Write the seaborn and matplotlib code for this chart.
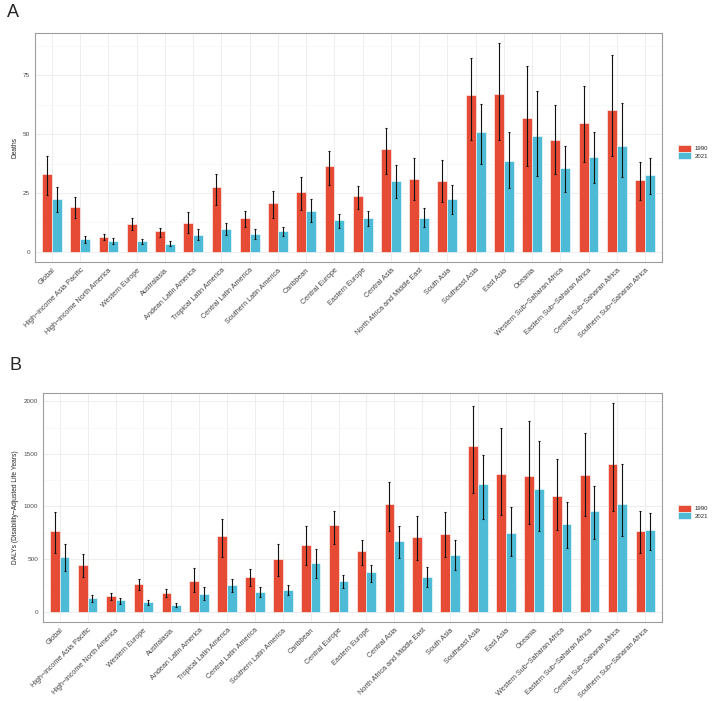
import numpy as np
import pandas as pd
import matplotlib
matplotlib.use("Agg")
import matplotlib.pyplot as plt
import seaborn as sns
from matplotlib.ticker import MultipleLocator

sns.set_style("whitegrid")
plt.rcParams["font.family"] = ["Liberation Sans", "DejaVu Sans"]

OUTPUT = "out.png"

REGIONS = [
    "Global", "High−income Asia Pacific", "High−income North America",
    "Western Europe", "Australasia", "Andean Latin America",
    "Tropical Latin America", "Central Latin America", "Southern Latin America",
    "Caribbean", "Central Europe", "Eastern Europe", "Central Asia",
    "North Africa and Middle East", "South Asia", "Southeast Asia", "East Asia",
    "Oceania", "Western Sub−Saharan Africa", "Eastern Sub−Saharan Africa",
    "Central Sub−Saharan Africa", "Southern Sub−Saharan Africa",
]
YEARS = ["1990", "2021"]
COLORS = {"1990": "#E64B35", "2021": "#4DBBD5"}

# Panel A: deaths
DEATHS_1990 = [33.1, 19.2, 6.4, 11.9, 8.6, 12.1, 27.3, 14.3, 20.5, 25.3, 36.4,
               23.7, 43.8, 30.9, 30.1, 66.7, 67.0, 56.8, 47.3, 54.7, 60.3, 30.5]
DEATHS_1990_LO = [24.0, 14.3, 4.8, 9.3, 6.4, 7.9, 19.9, 10.6, 14.3, 17.7, 28.2,
                  18.1, 32.9, 21.8, 21.0, 47.6, 47.3, 36.3, 32.9, 38.0, 40.5, 21.9]
DEATHS_1990_HI = [40.8, 23.3, 7.6, 14.1, 10.2, 16.8, 33.2, 17.2, 25.8, 31.6, 42.7,
                  27.8, 52.8, 39.7, 39.0, 82.6, 88.6, 79.1, 62.6, 70.3, 83.5, 38.0]
DEATHS_2021 = [22.5, 5.4, 4.7, 4.4, 3.4, 7.1, 9.6, 7.6, 8.6, 17.5, 13.3,
               14.3, 30.2, 14.4, 22.2, 51.0, 38.4, 49.4, 35.5, 40.3, 45.1, 32.5]
DEATHS_2021_LO = [16.9, 3.7, 3.2, 3.2, 2.4, 4.9, 7.1, 5.5, 6.5, 12.4, 9.9,
                  10.7, 23.0, 10.3, 16.0, 37.4, 27.1, 32.2, 25.3, 29.1, 31.9, 24.7]
DEATHS_2021_HI = [27.7, 6.6, 5.8, 5.4, 4.4, 9.7, 12.0, 9.7, 10.3, 22.6, 15.8,
                  17.2, 36.7, 18.4, 28.4, 62.9, 50.7, 68.4, 44.9, 50.8, 63.4, 39.7]

# Panel B: DALYs
DALY_1990 = [767, 445, 148, 259, 177, 293, 722, 331, 498, 634, 820,
             580, 1022, 713, 735, 1574, 1306, 1290, 1104, 1297, 1407, 770]
DALY_1990_LO = [562, 331, 114, 208, 139, 186, 524, 243, 341, 445, 640,
                448, 770, 495, 524, 1130, 915, 836, 773, 905, 953, 562]
DALY_1990_HI = [950, 546, 180, 306, 211, 410, 880, 404, 640, 811, 959,
                681, 1234, 905, 946, 1953, 1748, 1814, 1451, 1700, 1981, 953]
DALY_2021 = [521, 126, 107, 88, 66, 170, 252, 183, 208, 461, 287,
             372, 669, 331, 540, 1212, 751, 1164, 833, 953, 1019, 773]
DALY_2021_LO = [385, 88, 76, 66, 47, 114, 189, 136, 158, 322, 221,
                278, 508, 237, 391, 880, 527, 770, 603, 688, 716, 584]
DALY_2021_HI = [640, 158, 132, 110, 79, 230, 309, 230, 252, 593, 344,
                445, 811, 423, 685, 1492, 991, 1625, 1047, 1199, 1404, 934]


def draw_panel(ax, v90, lo90, hi90, v21, lo21, hi21, ylabel, step):
    n = len(REGIONS)
    df = pd.DataFrame({
        "region": REGIONS * 2,
        "year": ["1990"] * n + ["2021"] * n,
        "value": v90 + v21,
        "lo": lo90 + lo21,
        "hi": hi90 + hi21,
    })
    sns.barplot(data=df, x="region", y="value", hue="year", order=REGIONS,
                hue_order=YEARS, palette=COLORS, width=0.7, errorbar=None,
                edgecolor="white", linewidth=0.4, saturation=1, ax=ax)

    # error bars at the dodged bar centres
    for cont, yr in zip(ax.containers, YEARS):
        sub = df[df["year"] == yr]
        xs = [b.get_x() + b.get_width() / 2 for b in cont]
        ax.errorbar(xs, sub["value"],
                    yerr=[sub["value"] - sub["lo"], sub["hi"] - sub["value"]],
                    fmt="none", ecolor="#111111", elinewidth=0.8,
                    capsize=1.0, capthick=0.8, zorder=3)

    top = df["hi"].max()
    pad = 0.05 * top
    ax.set_ylim(-pad, top + pad)
    ax.set_xlim(-0.6, n - 0.4)
    ax.yaxis.set_major_locator(MultipleLocator(step))
    ax.yaxis.set_minor_locator(MultipleLocator(step / 2))

    ax.set_axisbelow(True)
    ax.grid(True, which="major", color="#EBEBEB", linewidth=0.6)
    ax.grid(True, which="minor", axis="y", color="#F3F3F3", linewidth=0.4)
    ax.tick_params(which="minor", length=0)
    ax.tick_params(axis="both", which="major", length=2, width=0.5,
                   color="#333333", pad=1.5)
    ax.tick_params(axis="y", labelsize=4.6, labelcolor="#4D4D4D")
    ax.tick_params(axis="x", labelsize=5.2, labelcolor="#444444")
    for lbl in ax.get_xticklabels():
        lbl.set_rotation(45)
        lbl.set_ha("right")
        lbl.set_rotation_mode("anchor")

    for sp in ax.spines.values():
        sp.set_visible(True)
        sp.set_color("#9E9E9E")
        sp.set_linewidth(0.8)

    ax.set_xlabel("")
    ax.set_ylabel(ylabel, fontsize=4.8, labelpad=3)

    handles, labels = ax.get_legend_handles_labels()
    ax.legend(handles, labels, loc="center left", bbox_to_anchor=(1.022, 0.48),
              frameon=False, fontsize=4.3, handlelength=2.1, handleheight=1.5,
              labelspacing=0.0, handletextpad=0.7, borderaxespad=0)


def main():
    fig = plt.figure(figsize=(7.12, 7.01), dpi=100)
    ax_a = fig.add_axes([0.0492, 0.6262, 0.8806, 0.3267])
    ax_b = fig.add_axes([0.0604, 0.1127, 0.8694, 0.3267])

    draw_panel(ax_a, DEATHS_1990, DEATHS_1990_LO, DEATHS_1990_HI,
               DEATHS_2021, DEATHS_2021_LO, DEATHS_2021_HI, "Deaths", 25)
    draw_panel(ax_b, DALY_1990, DALY_1990_LO, DALY_1990_HI,
               DALY_2021, DALY_2021_LO, DALY_2021_HI,
               "DALYs (Disability−Adjusted Life Years)", 500)

    fig.text(0.010, 0.995, "A", fontsize=13, va="top", ha="left")
    fig.text(0.014, 0.491, "B", fontsize=13, va="top", ha="left")

    fig.savefig(OUTPUT, dpi=100, facecolor="white")
    plt.close(fig)


if __name__ == "__main__":
    main()
